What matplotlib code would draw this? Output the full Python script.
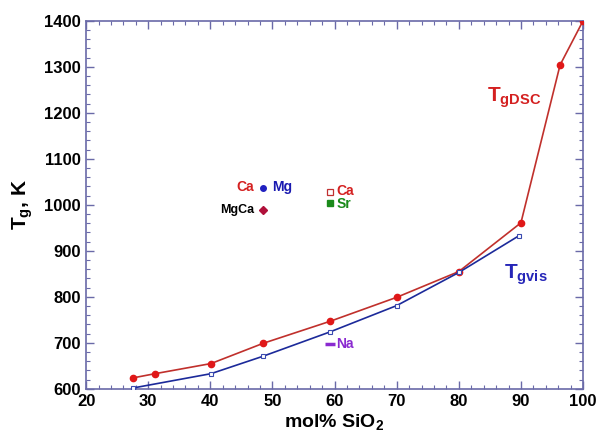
import matplotlib
matplotlib.use("Agg")
import matplotlib.pyplot as plt
from matplotlib.ticker import MultipleLocator

plt.rcParams["font.family"] = ["Liberation Sans", "DejaVu Sans"]
plt.rcParams["mathtext.fontset"] = "custom"
plt.rcParams["mathtext.rm"] = "Liberation Sans:bold"
plt.rcParams["mathtext.it"] = "Liberation Sans:bold"
plt.rcParams["mathtext.bf"] = "Liberation Sans:bold"

# Tg from DSC (red) and from viscosity (blue)
dsc_sio2 = [27.6, 31.1, 40.1, 48.5, 59.3, 70.0, 80.0, 90.0, 96.3, 100.0]
dsc_tg = [624, 633, 655, 699, 747, 799, 855, 961, 1304, 1400]
vis_sio2 = [27.6, 40.1, 48.5, 59.3, 70.0, 80.0, 89.7]
vis_tg = [602, 633, 671, 724, 781, 853, 933]

# isolated points: Mg, Ca (same spot), MgCa, Ca, Sr, Na
pt_labels = ["Mg", "Ca", "MgCa", "Ca", "Sr", "Na"]
pt_sio2 = [48.5, 48.5, 48.5, 59.3, 59.3, 59.2]
pt_tg = [1037, 1037, 988, 1028, 1004, 697]

RED = "#d42020"
BLUE = "#2626b8"
FRAME = "#6a6aa8"

fig = plt.figure(figsize=(5.98, 4.34), dpi=100)
ax = fig.add_axes([0.144, 0.104, 0.831, 0.848])

ax.plot(dsc_sio2, dsc_tg, color="#c0302c", lw=1.2, marker="o", ms=4.5,
        mfc="#e01818", mec="#e01818", zorder=3)
ax.plot(vis_sio2, vis_tg, color="#1c2a9a", lw=1.2, marker="s", ms=3.5,
        mfc="white", mec="#3a4ab0", mew=0.8, zorder=3)

ax.plot(pt_sio2[0], pt_tg[0], "o", ms=4, color="#2020c0", zorder=4)
ax.plot(pt_sio2[2], pt_tg[2], "D", ms=4.5, color="#b0103a", zorder=4)
ax.plot(pt_sio2[3], pt_tg[3], "s", ms=4.5, mfc="white", mec="#c03030", mew=0.9, zorder=4)
ax.plot(pt_sio2[4], pt_tg[4], "s", ms=4.5, color="#1a8a1a", zorder=4)
ax.plot(pt_sio2[5], pt_tg[5], "_", ms=6.5, mew=2.5, color="#8a2ad0", zorder=4)

fs = 10
ax.text(pt_sio2[1] - 1.4, pt_tg[1] + 2, pt_labels[1], color=RED, fontsize=fs,
        fontweight="bold", ha="right", va="center")
ax.text(pt_sio2[0] + 1.4, pt_tg[0] + 2, pt_labels[0], color="#1a1ab0", fontsize=fs,
        fontweight="bold", ha="left", va="center")
ax.text(pt_sio2[2] - 1.4, pt_tg[2], pt_labels[2], color="black", fontsize=fs - 1,
        fontweight="bold", ha="right", va="center")
ax.text(pt_sio2[3] + 1.0, pt_tg[3] + 3, pt_labels[3], color=RED, fontsize=fs,
        fontweight="bold", ha="left", va="center")
ax.text(pt_sio2[4] + 1.0, pt_tg[4] - 3, pt_labels[4], color="#1a8a1a", fontsize=fs,
        fontweight="bold", ha="left", va="center")
ax.text(pt_sio2[5] + 1.0, pt_tg[5] + 1, pt_labels[5], color="#8a2ad0", fontsize=fs,
        fontweight="bold", ha="left", va="center")

ax.text(84.5, 1232, r"T$_{\mathrm{gDSC}}$", color=RED, fontsize=15,
        fontweight="bold", ha="left", va="center")
ax.text(87.2, 848, r"T$_{\mathrm{gvis}}$", color=BLUE, fontsize=15,
        fontweight="bold", ha="left", va="center")

ax.set_xlim(20, 100)
ax.set_ylim(600, 1400)
ax.xaxis.set_major_locator(MultipleLocator(10))
ax.xaxis.set_minor_locator(MultipleLocator(2))
ax.yaxis.set_major_locator(MultipleLocator(100))
ax.yaxis.set_minor_locator(MultipleLocator(20))
ax.tick_params(which="both", direction="in", top=True, right=True, color=FRAME)
ax.tick_params(which="major", length=6, width=1, labelsize=12, pad=4)
ax.tick_params(which="minor", length=3, width=0.8)
for lab in ax.get_xticklabels() + ax.get_yticklabels():
    lab.set_fontweight("bold")
for sp in ax.spines.values():
    sp.set_color(FRAME)
    sp.set_linewidth(1.2)

ax.set_xlabel(r"mol% SiO$_2$", fontsize=14, fontweight="bold", labelpad=2)
ax.set_ylabel(r"T$_g$, K", fontsize=15, fontweight="bold", labelpad=6)

fig.savefig("out.png", dpi=100)
